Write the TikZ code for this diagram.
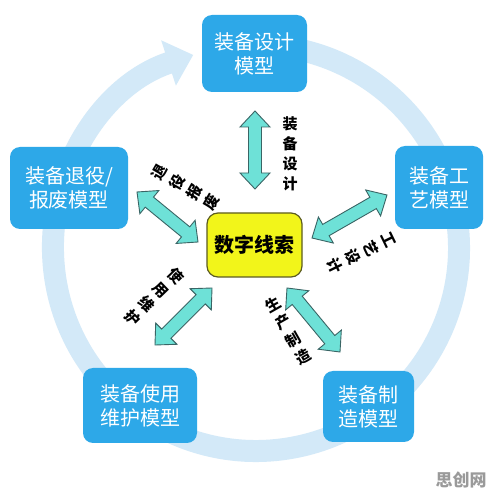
\documentclass[tikz,border=0pt]{standalone}
\usepackage{fontspec}
\setmainfont{Noto Sans CJK SC}
\usetikzlibrary{arrows.meta,calc}
\definecolor{ringblue}{HTML}{D3E9F8}
\definecolor{boxblue}{HTML}{2DA8E8}
\definecolor{arrfill}{HTML}{6EE1D7}
\definecolor{arrline}{HTML}{3A6565}
\definecolor{yel}{HTML}{F2F51A}
\definecolor{yelline}{HTML}{5C5C20}
\definecolor{wmgray}{HTML}{9A9A9A}
\tikzset{
  model/.style={fill=boxblue, rounded corners=10pt, text=white,
    font=\fontsize{20}{24}\selectfont, align=center, inner sep=0pt},
  hub/.style={fill=yel, draw=yelline, line width=1.2pt, rounded corners=11pt,
    font=\bfseries\fontsize{20}{24}\selectfont, align=center, inner sep=0pt,
    minimum width=95pt, minimum height=64pt},
  fatarr/.style={fill=arrfill, draw=arrline, line width=0.9pt, line join=miter},
  lbl/.style={font=\bfseries\fontsize{15}{20}\selectfont, align=center, inner sep=0pt},
  ringline/.style={draw=ringblue, line width=22pt,
    -{Triangle[width=46pt,length=26pt,fill=ringblue]}}
}
\newcommand\fatarrow[3]{%
  \coordinate (#1h1) at ($(#2)!16pt!(#3)$);
  \coordinate (#1h2) at ($(#3)!16pt!(#2)$);
  \draw[fatarr] (#2) -- ($(#1h1)!15pt!90:(#3)$) -- ($(#1h1)!6.5pt!90:(#3)$)
    -- ($(#1h2)!6.5pt!-90:(#2)$) -- ($(#1h2)!15pt!-90:(#2)$) -- (#3)
    -- ($(#1h2)!15pt!90:(#2)$) -- ($(#1h2)!6.5pt!90:(#2)$)
    -- ($(#1h1)!6.5pt!-90:(#3)$) -- ($(#1h1)!15pt!-90:(#3)$) -- cycle;}
\begin{document}
\begin{tikzpicture}[x=1pt,y=1pt]
\useasboundingbox[fill=white] (0,0) rectangle (496,499);
% ring
\coordinate (rc) at (256,251);
\draw[ringline] (rc) ++(460:203) arc[start angle=460, end angle=108, radius=203];
% models
\node[model, minimum width=105pt, minimum height=77pt] (design) at (254.5,445.5) {装备设计\\模型};
\node[model, minimum width=118pt, minimum height=82pt] (retire) at (69,311) {装备退役/\\报废模型};
\node[model, minimum width=88pt, minimum height=83pt] (process) at (439,311.5) {装备工\\艺模型};
\node[model, minimum width=114pt, minimum height=75pt] (use) at (140,93.5) {装备使用\\维护模型};
\node[model, minimum width=91pt, minimum height=71pt] (make) at (368.5,92.5) {装备制\\造模型};
\node[hub] (thread) at (254.5,254) {数字线索};
% arrow end points
\coordinate (a1s) at (255,388); \coordinate (a1e) at (255,310);
\coordinate (a2s) at (137,307); \coordinate (a2e) at (198,257);
\coordinate (a3s) at (387,304); \coordinate (a3e) at (312,261);
\coordinate (a4s) at (212,211); \coordinate (a4e) at (155,154);
\coordinate (a5s) at (287,211); \coordinate (a5e) at (340,147);
\fatarrow{a1}{a1s}{a1e}
\fatarrow{a2}{a2s}{a2e}
\fatarrow{a3}{a3s}{a3e}
\fatarrow{a4}{a4s}{a4e}
\fatarrow{a5}{a5s}{a5e}
% labels
\node[lbl] (l1) at (290,345) {装\\备\\设\\计};
\node[lbl, rotate=60] (l2) at (186,312) {退\\役\\报\\废};
\node[lbl, rotate=-64] (l3) at (361,246) {工\\艺\\设\\计};
\node[lbl, rotate=-46] (l4) at (154,202) {使\\用\\维\\护};
\node[lbl, rotate=29.5] (l5) at (288,168) {生\\产\\制\\造};
% watermark
\node[font=\bfseries\fontsize{17}{20}\selectfont, text=wmgray, inner sep=0pt] (wm) at (461,19) {思创网};
\end{tikzpicture}
\end{document}
